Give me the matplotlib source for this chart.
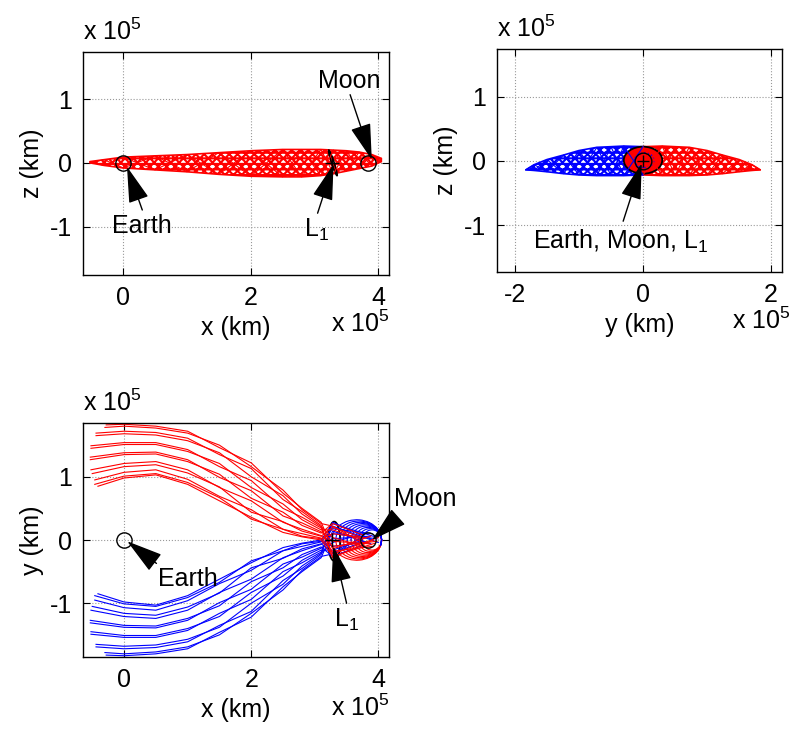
import matplotlib
matplotlib.use("Agg")
import matplotlib.pyplot as plt
from matplotlib.patches import Ellipse, Arc

plt.rcParams["font.family"] = ["Liberation Sans", "DejaVu Sans"]
plt.rcParams["mathtext.fontset"] = "custom"
plt.rcParams["mathtext.rm"] = "Liberation Sans"
plt.rcParams["mathtext.it"] = "Liberation Sans:italic"
plt.rcParams["axes.unicode_minus"] = False
plt.rcParams["hatch.linewidth"] = 1.5
FS = 18

# ---- data (all lengths in units of 1e5 km) ----
earth = (0.0, 0.0)
moon = (3.84, 0.0)
l1 = (3.27, 0.0)

# x-y view, red manifold strands (blue one is the mirror y -> -y)
strand_x0 = [-0.41, -0.46, -0.46, -0.50, -0.52, -0.53, -0.53, -0.52, -0.52, -0.44, -0.44, -0.30, -0.28]
strand_y0 = [0.85, 0.88, 0.95, 1.05, 1.11, 1.27, 1.31, 1.45, 1.49, 1.65, 1.69, 1.78, 1.82]
strand_x = [0.0, 0.5, 1.0, 1.5, 2.0, 2.5, 2.8, 3.1]
strand_y = [
    [0.98, 1.03, 0.88, 0.62, 0.36, 0.12, 0.05, 0.00],
    [1.01, 1.05, 0.91, 0.67, 0.33, 0.17, 0.06, 0.02],
    [1.07, 1.11, 0.96, 0.69, 0.48, 0.17, 0.10, 0.03],
    [1.16, 1.19, 1.06, 0.84, 0.44, 0.29, 0.14, 0.06],
    [1.21, 1.24, 1.11, 0.83, 0.62, 0.28, 0.17, 0.07],
    [1.35, 1.36, 1.24, 1.04, 0.66, 0.44, 0.23, 0.11],
    [1.38, 1.39, 1.27, 0.99, 0.78, 0.38, 0.27, 0.13],
    [1.51, 1.51, 1.40, 1.21, 0.83, 0.57, 0.32, 0.16],
    [1.54, 1.54, 1.43, 1.16, 0.94, 0.50, 0.36, 0.19],
    [1.68, 1.66, 1.57, 1.38, 1.00, 0.70, 0.41, 0.21],
    [1.72, 1.70, 1.61, 1.35, 1.13, 0.64, 0.45, 0.23],
    [1.80, 1.77, 1.69, 1.50, 1.16, 0.79, 0.48, 0.26],
    [1.83, 1.80, 1.72, 1.46, 1.22, 0.74, 0.50, 0.28],
]
strand_halo_x = 3.28
strand_halo_y = [-0.26, 0.10, -0.18, 0.20, -0.10, 0.26, -0.02, 0.16, -0.22, 0.04, -0.28, 0.22, -0.14]
# each strand carries on from the halo towards the Moon
strand_moon_x = [3.95, 3.80, 3.90, 3.72, 3.98, 3.76, 3.86, 3.70, 4.00, 3.82, 3.92, 3.74, 3.88]
strand_moon_y = [-0.05, 0.03, -0.10, 0.05, -0.02, 0.08, -0.06, 0.02, 0.04, -0.12, 0.00, -0.04, 0.06]

# loops round the Moon (red below, blue above)
loop_cx = [3.66, 3.69, 3.72, 3.75, 3.78, 3.81, 3.84, 3.87, 3.90]
loop_w = [0.78, 0.72, 0.66, 0.60, 0.54, 0.48, 0.42, 0.36, 0.30]
loop_h = [0.64, 0.60, 0.56, 0.52, 0.48, 0.44, 0.40, 0.36, 0.32]

# x-z view envelope of the tube
xz_x = [-0.52, -0.3, 0.0, 0.5, 1.0, 1.5, 2.0, 2.5, 2.8, 3.1, 3.3, 3.5, 3.7, 3.9, 4.05]
xz_top = [0.02, 0.05, 0.09, 0.11, 0.13, 0.16, 0.19, 0.21, 0.21, 0.21, 0.20, 0.19, 0.17, 0.13, 0.07]
xz_bot = [0.00, -0.04, -0.08, -0.11, -0.14, -0.18, -0.21, -0.22, -0.22, -0.20, -0.17, -0.13, -0.09, -0.05, 0.02]

# y-z view envelope (red, y > 0; blue is the mirror)
yz_y = [0.0, 0.3, 0.5, 0.72, 1.0, 1.24, 1.5, 1.7, 1.83]
yz_top = [0.22, 0.23, 0.22, 0.21, 0.16, 0.09, 0.02, -0.06, -0.14]
yz_bot = [-0.22, -0.23, -0.23, -0.23, -0.22, -0.20, -0.17, -0.15, -0.14]

# halo orbit projections: (cx, cy, width, height, angle)
halo_xy = (3.305, -0.02, 0.19, 0.62, 0)
halo_xz = (3.29, 0.0, 0.42, 0.04, -72)
halo_yz = (0.0, 0.01, 0.60, 0.42, 0)

# annotations: label, text pos, arrow tail, arrow head
notes_xz = [("Earth", (0.29, -0.99), (0.30, -0.74), (0.06, -0.06)),
            ("L$_1$", (3.03, -1.05), (3.05, -0.79), (3.30, -0.02)),
            ("Moon", (3.54, 1.29), (3.56, 1.07), (3.90, 0.05))]
notes_yz = [("Earth, Moon, L$_1$", (-0.35, -1.25), (-0.31, -0.94), (-0.02, -0.04))]
notes_xy = [("Earth", (1.00, -0.62), (0.51, -0.37), (0.05, -0.02)),
            ("L$_1$", (3.50, -1.27), (3.50, -1.00), (3.29, -0.10)),
            ("Moon", (4.74, 0.65), (4.26, 0.32), (3.90, 0.00))]


def style(ax, xlim, ylim, xticks, xlabel, ylabel, mult_x=1.0):
    ax.set_xlim(xlim)
    ax.set_ylim(ylim)
    ax.set_xticks(xticks)
    ax.set_yticks([-1, 0, 1])
    ax.grid(True, ls=":", lw=0.8, color="0.6")
    ax.set_axisbelow(True)
    ax.tick_params(direction="in", top=True, right=True, length=5,
                   labelsize=FS, pad=8)
    for s in ax.spines.values():
        s.set_linewidth(1.0)
    ax.set_xlabel(xlabel, fontsize=FS)
    ax.set_ylabel(ylabel, fontsize=FS)
    ax.text(0.0, 1.03, r"x 10$^{5}$", transform=ax.transAxes, fontsize=FS,
            ha="left", va="bottom")
    ax.text(mult_x, -0.16, r"x 10$^{5}$", transform=ax.transAxes, fontsize=FS,
            ha="right", va="top")


def annotate(ax, notes):
    for label, tpos, tail, head in notes:
        ax.annotate("", xy=head, xytext=tail, annotation_clip=False,
                    arrowprops=dict(arrowstyle="-|>,head_length=0.95,head_width=0.27",
                                    mutation_scale=24, lw=1.0, color="k",
                                    shrinkA=0, shrinkB=0))
        ax.text(tpos[0], tpos[1], label, fontsize=FS, ha="center", va="center")


def lens(ax, x, top, bot, color):
    ax.fill_between(x, bot, top, facecolor="white", edgecolor=color,
                    hatch="xxxx---", lw=1.2)
    zig_a = [top[i] if i % 2 == 0 else bot[i] for i in range(len(x))]
    zig_b = [bot[i] if i % 2 == 0 else top[i] for i in range(len(x))]
    ax.plot(x, zig_a, color=color, lw=0.8)
    ax.plot(x, zig_b, color=color, lw=0.8)


fig = plt.figure(figsize=(7.93, 7.40), dpi=100)
ax1 = fig.add_axes([83 / 793, 1 - 275 / 740, 306 / 793, 223 / 740])
ax2 = fig.add_axes([497 / 793, 1 - 272 / 740, 285 / 793, 223 / 740])
ax3 = fig.add_axes([83 / 793, 1 - 657 / 740, 306 / 793, 234 / 740])

# ---- x-z ----
lens(ax1, xz_x, xz_top, xz_bot, "r")
cx, cy, w, h, a = halo_xz
ax1.add_patch(Ellipse((cx, cy), w, h, angle=a, fill=False, ec="k", lw=1.2))
ax1.plot(*earth, "o", mfc="none", mec="k", ms=11)
ax1.plot(*moon, "o", mfc="none", mec="k", ms=11)
ax1.plot(*l1, "+", color="k", ms=10)
style(ax1, (-0.63, 4.17), (-1.76, 1.74), [0, 2, 4], "x (km)", "z (km)")
annotate(ax1, notes_xz)

# ---- y-z ----
lens(ax2, yz_y, yz_top, yz_bot, "r")
lens(ax2, [-v for v in yz_y], yz_top, yz_bot, "b")
cx, cy, w, h, a = halo_yz
ax2.add_patch(Ellipse((cx, cy), w, h, angle=a, fc="r", ec="none"))
ax2.add_patch(Ellipse((cx + 0.02, cy), w * 0.5, h * 0.55, fill=False,
                      ec="b", ls=":", lw=1.0))
ax2.add_patch(Ellipse((cx, cy), w, h, angle=a, fill=False, ec="k", lw=1.3))
ax2.plot(0, 0, "o", mfc="none", mec="k", ms=12)
ax2.plot(0, 0, "+", color="k", ms=8)
style(ax2, (-2.28, 2.17), (-1.73, 1.74), [-2, 0, 2], "y (km)", "z (km)",
      mult_x=1.03)
annotate(ax2, notes_yz)

# ---- x-y ----
for sign, color in ((-1, "b"), (1, "r")):
    for i in range(len(strand_y)):
        xs = [strand_x0[i]] + strand_x + [strand_halo_x, strand_moon_x[i]]
        ys = [strand_y0[i]] + strand_y[i] + [strand_halo_y[i], strand_moon_y[i]]
        ax3.plot(xs, [sign * v for v in ys], color=color, lw=0.8)
for i in range(len(loop_cx)):
    ax3.add_patch(Arc((loop_cx[i], 0.0), loop_w[i], loop_h[i],
                      theta1=175, theta2=375, color="r", lw=0.8))
for i in range(len(loop_cx)):
    ax3.add_patch(Arc((loop_cx[i], 0.0), loop_w[i], loop_h[i],
                      theta1=-15, theta2=185, color="b", lw=0.8))
cx, cy, w, h, a = halo_xy
ax3.add_patch(Ellipse((cx, cy), w, h, angle=a, fill=False, ec="k", lw=1.3))
ax3.plot(*earth, "o", mfc="none", mec="k", ms=11)
ax3.plot(*moon, "o", mfc="none", mec="k", ms=11)
ax3.plot(*l1, "+", color="k", ms=10)
style(ax3, (-0.645, 4.167), (-1.85, 1.85), [0, 2, 4], "x (km)", "y (km)")
annotate(ax3, notes_xy)

fig.savefig("out.png", dpi=100)
